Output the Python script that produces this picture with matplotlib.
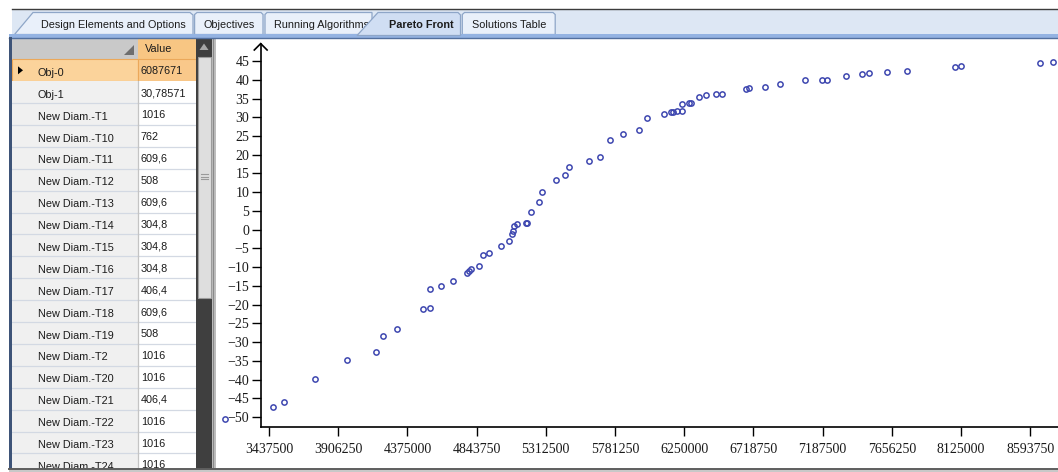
import matplotlib
matplotlib.use("Agg")
import matplotlib.pyplot as plt
from matplotlib.patches import Rectangle, Polygon

# ---------------- data ----------------
tab_labels = ["Design Elements and Options", "Objectives", "Running Algorithms",
              "Pareto Front", "Solutions Table"]
table_header = "Value"
row_names = ["Obj-0", "Obj-1", "New Diam.-T1", "New Diam.-T10", "New Diam.-T11",
             "New Diam.-T12", "New Diam.-T13", "New Diam.-T14", "New Diam.-T15",
             "New Diam.-T16", "New Diam.-T17", "New Diam.-T18", "New Diam.-T19",
             "New Diam.-T2", "New Diam.-T20", "New Diam.-T21", "New Diam.-T22",
             "New Diam.-T23", "New Diam.-T24"]
row_values = ["6087671", "30,78571", "1016", "762", "609,6", "508", "609,6", "304,8",
              "304,8", "304,8", "406,4", "609,6", "508", "1016", "1016", "406,4",
              "1016", "1016", "1016"]

obj0 = [3139000, 3466600, 3539100, 3751100, 3965900, 4160300, 4211700, 4304600,
        4478600, 4530100, 4530100, 4602600, 4681800, 4776700, 4792300, 4805800,
        4862000, 4887100, 4927700, 5012400, 5061200, 5081500, 5089000, 5099100,
        5116000, 5175000, 5187200, 5212200, 5264400, 5290100, 5381600, 5445900,
        5471700, 5607200, 5683000, 5745300, 5835400, 5945800, 5998000, 6113200,
        6157200, 6172100, 6199900, 6231700, 6237100, 6282500, 6297400, 6353600,
        6399700, 6463400, 6504000, 6666600, 6691000, 6795300, 6901000, 7068300,
        7183400, 7217300, 7348000, 7456400, 7501800, 7625700, 7757200, 8086400,
        8125000, 8658100, 8748200]
obj1 = [-50.4, -47.2, -46.0, -39.8, -34.8, -32.7, -28.4, -26.5,
        -21.2, -21.0, -15.9, -15.1, -13.8, -11.6, -11.0, -10.6,
        -9.8, -6.8, -6.3, -4.4, -3.1, -1.2, -0.35, 1.1,
        1.5, 1.7, 1.8, 4.6, 7.3, 10.0, 13.2, 14.7,
        16.7, 18.3, 19.3, 24.0, 25.5, 26.5, 29.9, 31.0,
        31.5, 31.5, 31.7, 31.7, 33.6, 33.9, 33.9, 35.5,
        36.0, 36.1, 36.3, 37.6, 37.9, 38.2, 39.0, 40.0,
        40.0, 40.0, 41.1, 41.6, 41.9, 42.2, 42.4, 43.5,
        43.8, 44.6, 44.8]

x_ticks = [3437500, 3906250, 4375000, 4843750, 5312500, 5781250, 6250000,
           6718750, 7187500, 7656250, 8125000, 8593750]
x_tick_labels = ["3437500", "3906250", "4375000", "4843750", "5312500", "5781250",
                 "6250000", "6718750", "7187500", "7656250", "8125000", "8593750"]
y_ticks = [-50, -45, -40, -35, -30, -25, -20, -15, -10, -5, 0, 5, 10, 15, 20, 25,
           30, 35, 40, 45]
y_tick_labels = ["\u221250", "\u221245", "\u221240", "\u221235", "\u221230", "\u221225",
                 "\u221220", "\u221215", "\u221210", "\u22125", "0", "5", "10", "15",
                 "20", "25", "30", "35", "40", "45"]

# ---------------- figure ----------------
W, H = 1058, 472
fig = plt.figure(figsize=(W / 100, H / 100), dpi=100)
fig.patch.set_facecolor("white")

bg = fig.add_axes([0, 0, 1, 1])
bg.set_xlim(0, W)
bg.set_ylim(H, 0)
bg.axis("off")

UI = "Liberation Sans"
UI_SIZE = 7.8


def rect(x0, y0, x1, y1, fc, z=1, ec="none", lw=0):
    bg.add_patch(Rectangle((x0, y0), x1 - x0, y1 - y0, facecolor=fc,
                           edgecolor=ec, linewidth=lw, zorder=z))


# tab strip
rect(12, 9, W, 34, "#dde7f4", z=1)
bg.plot([12, W], [8.5, 8.5], color="#3c3c3c", lw=1.0, zorder=2)

tab_fill = "#e9f0fa"
tab_edge = "#8ea6c8"
tabs = [
    [(14.5, 34.5), (33, 12.5), (190, 12.5), (193, 15), (193, 34.5)],
    [(194.6, 34.5), (194.6, 14.5), (197, 12.5), (261, 12.5), (263, 14.5), (263, 34.5)],
    [(265, 34.5), (265, 14.5), (267, 12.5), (372, 12.5), (372, 34.5)],
    [(357, 35.5), (378, 12.5), (458, 12.5), (460.5, 15), (460.5, 35.5)],
    [(462.3, 34.5), (462.3, 14.5), (464.5, 12.5), (553, 12.5), (555.2, 14.5), (555.2, 34.5)],
]
tab_text_x = [113.5, 229.6, 321.6, 421, 509]
tab_z = [3, 3, 3, 6, 3]
for i, poly in enumerate(tabs):
    fc = "#d0def3" if i == 3 else tab_fill
    bg.add_patch(Polygon(poly, closed=True, facecolor=fc, edgecolor=tab_edge,
                         linewidth=0.9, zorder=tab_z[i]))
    bg.text(tab_text_x[i], 28.5, tab_labels[i], ha="center", va="baseline",
            fontsize=UI_SIZE, family=UI, color="#1b1b1b",
            fontweight="bold" if i == 3 else "normal", zorder=tab_z[i] + 0.5)

# band under tabs
rect(9, 34, W, 37.5, "#94b3e2", z=5)
bg.plot([9, W], [37.5, 37.5], color="#53709e", lw=1.0, zorder=5)

# left border of table
rect(9, 37, 12, 470, "#3e5478", z=5)

# table header
rect(12, 38, 137.5, 59, "#c9c9c9", z=2)
rect(137.5, 38, 196, 59, "#f8c683", z=2)
bg.add_patch(Polygon([(124, 55), (134, 55), (134, 44.5)], closed=True,
                     facecolor="#6e6e6e", edgecolor="none", zorder=3))
bg.text(145, 52.5, table_header, ha="left", va="baseline", fontsize=UI_SIZE,
        family=UI, color="#1b1b1b", zorder=4)

# table rows
row_h = 21.9
row_top0 = 59.3
for i, (nm, val) in enumerate(zip(row_names, row_values)):
    top = row_top0 + i * row_h
    if i == 0:
        rect(12, top, 137.5, top + row_h, "#fbd39b", z=2, ec="#eba85a", lw=0.8)
        rect(137.5, top, 196, top + row_h, "#f9c88a", z=2, ec="#eba85a", lw=0.8)
        bg.add_patch(Polygon([(18, top + 7), (18, top + 15), (23, top + 11)],
                             closed=True, facecolor="black", edgecolor="none", zorder=3))
    else:
        rect(12, top, 137.5, top + row_h, "#f0f0f0", z=2)
        rect(137.5, top, 196, top + row_h, "#ffffff", z=2)
        bg.plot([12, 196], [top + row_h, top + row_h], color="#d3d9e3", lw=0.9, zorder=2.5)
        bg.plot([137.5, 137.5], [top, top + row_h], color="#c4c4c4", lw=0.9, zorder=2.5)
    bg.text(38, top + 16.5, nm, ha="left", va="baseline", fontsize=UI_SIZE,
            family=UI, color="#1b1b1b", zorder=3)
    bg.text(140.7, top + 15.0, val, ha="left", va="baseline", fontsize=UI_SIZE,
            family=UI, color="#1b1b1b", zorder=3)

# scrollbar
rect(196, 38, 212, 469, "#3f3f3f", z=4)
bg.add_patch(Polygon([(204, 43.5), (199.5, 50), (208.5, 50)], closed=True,
                     facecolor="#a6a6a6", edgecolor="none", zorder=4.5))
rect(197.5, 56.5, 210.5, 298, "#dedede", z=4.5, ec="#9c9c9c", lw=0.8)
for gy in (174, 176.5, 179):
    bg.plot([200.5, 207.5], [gy, gy], color="#9a9a9a", lw=0.8, zorder=4.6)

# separator strip and chart panel
rect(212, 37.5, 216, 469, "#bdbdbd", z=4)
bg.plot([212.5, 212.5], [37.5, 469], color="#8a8a8a", lw=0.8, zorder=4.1)
rect(216, 37.8, W, 468.5, "#ffffff", z=1)

# bottom border
rect(9, 468.5, W, 472, "#c8c8c8", z=7)
bg.plot([9, W], [469, 469], color="#5e5e5e", lw=1.4, zorder=7.5)

# y-axis arrow head
bg.plot([254.3, 260.7, 267.1], [50.0, 43.6, 50.0], color="black", lw=1.2,
        solid_joinstyle="miter", zorder=8)

# ---------------- chart axes ----------------
ax_left_px, ax_right_px = 260.7, 1100.0
ax_top_px, ax_bot_px = 44.0, 427.3
ax = fig.add_axes([ax_left_px / W, (H - ax_bot_px) / H,
                   (ax_right_px - ax_left_px) / W, (ax_bot_px - ax_top_px) / H])
ax.set_facecolor("none")
ax.set_xlim(3381300, 9066500)
ax.set_ylim(-52.74, 49.56)
for s in ("top", "right"):
    ax.spines[s].set_visible(False)
for s in ("left", "bottom"):
    ax.spines[s].set_linewidth(1.2)
    ax.spines[s].set_color("black")

ax.plot(obj0, obj1, linestyle="none", marker="o", ms=3.8, mfc="none",
        mec="#3f48b0", mew=1.1, clip_on=False, zorder=5)

ax.set_xticks(x_ticks, labels=x_tick_labels)
ax.set_yticks(y_ticks, labels=y_tick_labels)
ax.tick_params(axis="both", direction="out", length=6.3, width=1.0, color="black")
ax.tick_params(axis="x", pad=5.0)
ax.tick_params(axis="y", pad=2.0)
for lab in ax.get_xticklabels() + ax.get_yticklabels():
    lab.set_fontfamily("Liberation Serif")
    lab.set_fontsize(10)
    lab.set_color("#1a1a1a")

fig.savefig("out.png", dpi=100)
